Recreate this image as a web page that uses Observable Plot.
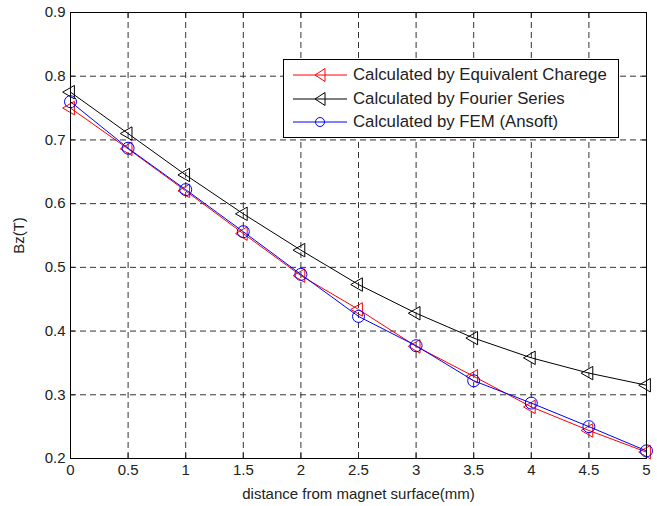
<!DOCTYPE html>
<html>
<head>
<meta charset="utf-8">
<script src="https://cdn.jsdelivr.net/npm/d3@7"></script>
<script src="https://cdn.jsdelivr.net/npm/@observablehq/plot@0.6"></script>
<style>
  body { margin: 0; background: #fff; }
  #wrap { position: relative; width: 657px; height: 506px; font-family: "Liberation Sans", Arial, sans-serif; }
  #legend { position: absolute; left: 283px; top: 59px; width: 336px; height: 79px; border: 1px solid #000; background: #fff; box-sizing: border-box; font-size: 16.8px; color: #222; }
  .row { position: absolute; left: 0; height: 20px; display: flex; align-items: center; white-space: nowrap; }
  .row svg { margin-left: 9px; margin-right: 6px; }
</style>
</head>
<body>
<div id="wrap"></div>
<script>
const distance = [0, 0.5, 1, 1.5, 2, 2.5, 3, 3.5, 4, 4.5, 5];
const equivCharge = [0.750, 0.686, 0.620, 0.553, 0.487, 0.434, 0.376, 0.329, 0.281, 0.244, 0.210];
const fourier = [0.775, 0.710, 0.645, 0.584, 0.527, 0.473, 0.428, 0.389, 0.358, 0.334, 0.315];
const fem = [0.760, 0.687, 0.622, 0.556, 0.489, 0.423, 0.377, 0.322, 0.287, 0.250, 0.212];
const xTicks = [0, 0.5, 1, 1.5, 2, 2.5, 3, 3.5, 4, 4.5, 5];
const yTicks = [0.2, 0.3, 0.4, 0.5, 0.6, 0.7, 0.8, 0.9];
const seriesNames = ["Calculated by Equivalent Charege", "Calculated by Fourier Series", "Calculated by FEM (Ansoft)"];
const seriesColors = ["#ff0000", "#000000", "#0000ff"];

const rows = [];
[equivCharge, fourier, fem].forEach((vals, i) => {
  vals.forEach((v, j) => rows.push({series: seriesNames[i], x: distance[j], y: v}));
});
const bySeries = name => rows.filter(d => d.series === name);

const chart = Plot.plot({
  width: 657,
  height: 506,
  marginLeft: 70,
  marginRight: 11,
  marginTop: 12,
  marginBottom: 48,
  style: {fontFamily: "Liberation Sans, Arial, sans-serif", fontSize: "15px", color: "#222", background: "#fff"},
  x: {domain: [0, 5]},
  y: {domain: [0.2, 0.9]},
  marks: [
    Plot.gridX(xTicks, {stroke: "#333", strokeOpacity: 1, strokeDasharray: "6,4"}),
    Plot.gridY(yTicks, {stroke: "#333", strokeOpacity: 1, strokeDasharray: "6,4"}),
    Plot.axisX(xTicks, {tickSize: 0, tickPadding: 6, tickFormat: d => String(d), label: "distance from magnet surface(mm)", labelAnchor: "center", labelArrow: "none", labelOffset: 40}),
    Plot.axisY(yTicks, {tickSize: 0, tickPadding: 5, tickFormat: d => d.toFixed(1), label: "Bz(T)", labelAnchor: "center", labelArrow: "none", labelOffset: 57}),
    Plot.axisX(xTicks, {anchor: "bottom", tickSize: -5, text: null, label: null}),
    Plot.axisX(xTicks, {anchor: "top", tickSize: -5, text: null, label: null}),
    Plot.axisY(yTicks, {anchor: "left", tickSize: -5, text: null, label: null}),
    Plot.axisY(yTicks, {anchor: "right", tickSize: -5, text: null, label: null}),
    Plot.line(bySeries(seriesNames[1]), {x: "x", y: "y", stroke: seriesColors[1], strokeWidth: 1}),
    Plot.dot(bySeries(seriesNames[1]), {x: "x", y: "y", symbol: "triangle", rotate: -90, r: 5, stroke: seriesColors[1], strokeWidth: 1}),
    Plot.line(bySeries(seriesNames[0]), {x: "x", y: "y", stroke: seriesColors[0], strokeWidth: 1}),
    Plot.dot(bySeries(seriesNames[0]), {x: "x", y: "y", symbol: "triangle", rotate: -90, r: 5, stroke: seriesColors[0], strokeWidth: 1}),
    Plot.line(bySeries(seriesNames[2]), {x: "x", y: "y", stroke: seriesColors[2], strokeWidth: 1}),
    Plot.dot(bySeries(seriesNames[2]), {x: "x", y: "y", symbol: "circle", r: 6, stroke: seriesColors[2], strokeWidth: 1}),
    Plot.frame({stroke: "#000", strokeWidth: 1})
  ]
});
const wrap = document.getElementById("wrap");
wrap.appendChild(chart);

// legend
const legend = document.createElement("div");
legend.id = "legend";
const markers = [
  c => `<path d="M22,10 L32,3.5 L32,16.5 Z" fill="none" stroke="${c}"/>`,
  c => `<path d="M22,10 L32,3.5 L32,16.5 Z" fill="none" stroke="${c}"/>`,
  c => `<circle cx="27" cy="10" r="4.5" fill="none" stroke="${c}"/>`
];
seriesNames.forEach((name, i) => {
  const row = document.createElement("div");
  row.className = "row";
  row.style.top = (5 + i * 23.7) + "px";
  row.innerHTML = `<svg width="54" height="20"><line x1="0" x2="54" y1="10" y2="10" stroke="${seriesColors[i]}"/>${markers[i](seriesColors[i])}</svg><span>${name}</span>`;
  legend.appendChild(row);
});
wrap.appendChild(legend);
</script>
</body>
</html>
